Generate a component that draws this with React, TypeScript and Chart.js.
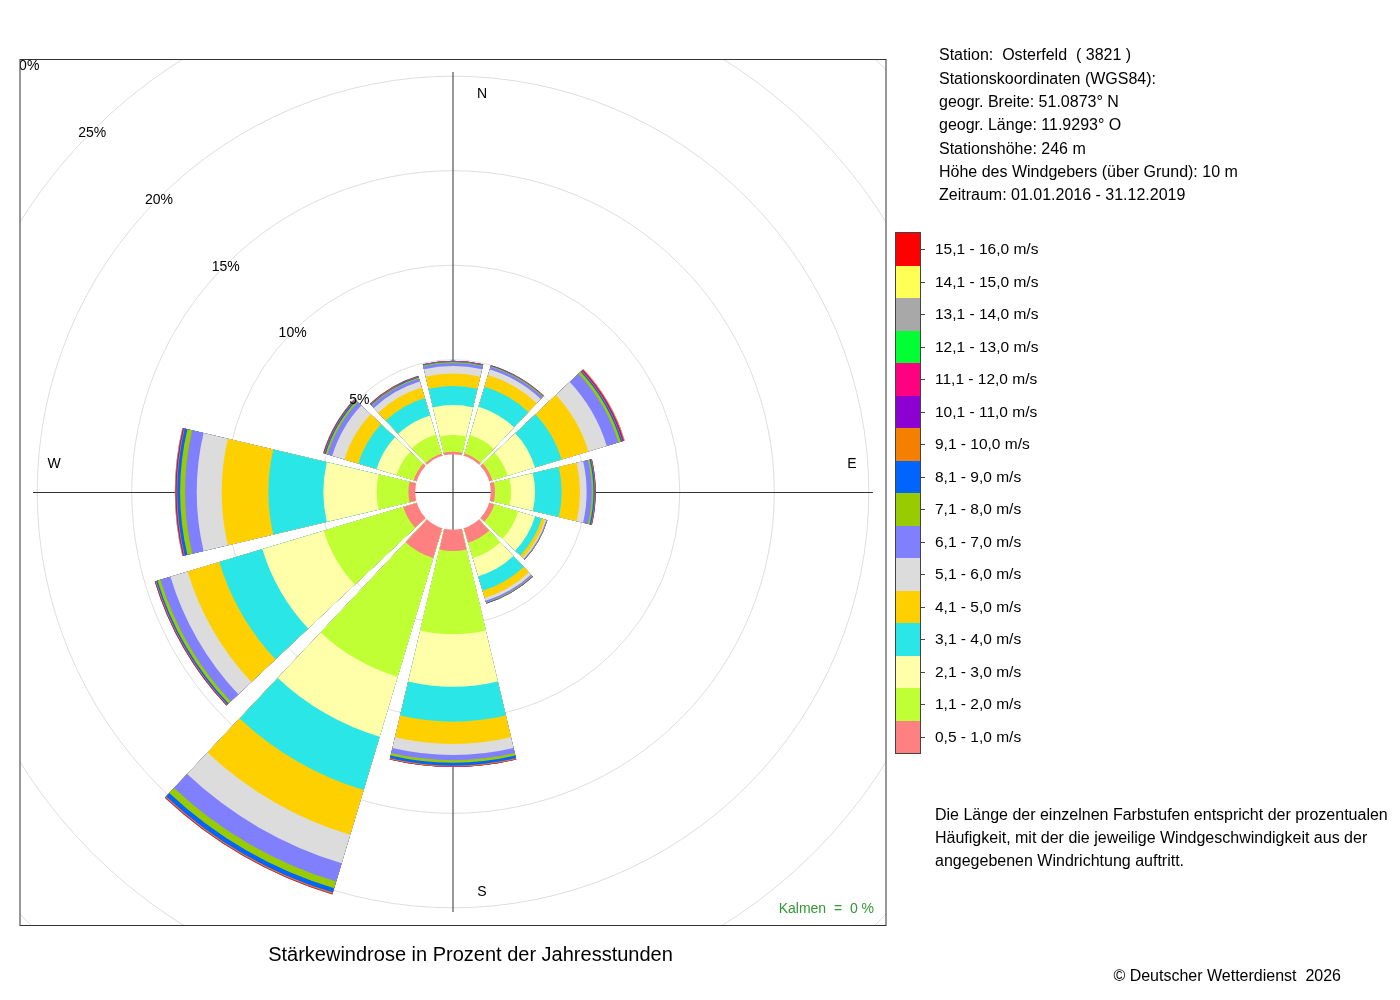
import React, { useEffect, useRef } from "react";
import { Chart, registerables } from "chart.js";

Chart.register(...registerables);

// ---------- data ----------
const directions = ["N", "NNE", "ENE", "E", "ESE", "SSE", "S", "SSW", "WSW", "W", "WNW", "NNW"];

const speedClassLabels = [
  "0,5 - 1,0 m/s", "1,1 - 2,0 m/s", "2,1 - 3,0 m/s", "3,1 - 4,0 m/s",
  "4,1 - 5,0 m/s", "5,1 - 6,0 m/s", "6,1 - 7,0 m/s", "7,1 - 8,0 m/s",
  "8,1 - 9,0 m/s", "9,1 - 10,0 m/s", "10,1 - 11,0 m/s", "11,1 - 12,0 m/s",
  "12,1 - 13,0 m/s", "13,1 - 14,0 m/s", "14,1 - 15,0 m/s", "15,1 - 16,0 m/s",
];

const speedClassColors = [
  "#FF8080", "#BFFF33", "#FFFFAA", "#2BE6E6",
  "#FFD000", "#DCDCDC", "#8080FF", "#99CC00",
  "#0064FF", "#F58000", "#8C00D2", "#FF0080",
  "#00FF33", "#A8A8A8", "#FFFF55", "#FF0000",
];

// percent of annual hours, per direction (N ... NNW)
const v05_10 = [0.13, 0.12, 0.17, 0.22, 0.28, 0.80, 1.12, 1.65, 0.75, 0.36, 0.17, 0.11];
const v11_20 = [0.89, 1.03, 0.85, 0.85, 1.32, 0.85, 4.41, 6.56, 4.39, 1.68, 0.94, 1.06];
const v21_30 = [1.58, 1.56, 1.51, 1.27, 0.93, 1.01, 2.77, 3.31, 3.39, 2.82, 1.11, 1.06];
const v31_40 = [1.01, 1.11, 1.47, 1.41, 0.37, 0.79, 1.85, 2.94, 2.38, 2.91, 1.01, 0.96];
const v41_50 = [0.66, 0.64, 1.48, 0.97, 0.18, 0.40, 1.18, 2.48, 1.75, 2.47, 0.77, 0.58];
const v51_60 = [0.40, 0.31, 1.01, 0.35, 0.07, 0.16, 0.59, 1.57, 0.95, 1.32, 0.67, 0.34];
const v61_70 = [0.16, 0.13, 0.64, 0.27, 0.03, 0.08, 0.27, 1.01, 0.55, 0.62, 0.26, 0.16];
const v71_80 = [0.05, 0.05, 0.14, 0.09, 0.01, 0.03, 0.13, 0.37, 0.16, 0.26, 0.10, 0.05];
const v81_90 = [0.04, 0.02, 0.07, 0.07, 0.01, 0.02, 0.16, 0.24, 0.08, 0.15, 0.06, 0.04];
const v91_100 = [0.01, 0.01, 0.03, 0.03, 0.01, 0.01, 0.05, 0.06, 0.04, 0.04, 0.03, 0.02];
const v101_110 = [0.01, 0.01, 0.03, 0.01, 0, 0.005, 0.01, 0.02, 0.02, 0.03, 0.02, 0.01];
const v111_120 = [0.01, 0.005, 0.05, 0.01, 0, 0, 0.005, 0.01, 0.01, 0.03, 0.02, 0.02];
const v121_130 = [0, 0, 0.01, 0.005, 0, 0, 0, 0.005, 0.005, 0.01, 0.01, 0.005];
const v131_140 = [0, 0, 0.01, 0, 0, 0, 0, 0.005, 0, 0.01, 0.005, 0];
const v141_150 = [0, 0, 0.01, 0, 0, 0, 0, 0, 0, 0.005, 0, 0];
const v151_160 = [0, 0, 0.01, 0, 0, 0, 0, 0, 0, 0.005, 0, 0];

const speedSeries = [
  v05_10, v11_20, v21_30, v31_40, v41_50, v51_60, v61_70, v71_80,
  v81_90, v91_100, v101_110, v111_120, v121_130, v131_140, v141_150, v151_160,
];

const ringTicks = [5, 10, 15, 20, 25, 30];
const calmPercent = 0;

const stationLines = [
  "Station:  Osterfeld  ( 3821 )",
  "Stationskoordinaten (WGS84):",
  "geogr. Breite: 51.0873° N",
  "geogr. Länge: 11.9293° O",
  "Stationshöhe: 246 m",
  "Höhe des Windgebers (über Grund): 10 m",
  "Zeitraum: 01.01.2016 - 31.12.2019",
];
const noteLines = [
  "Die Länge der einzelnen Farbstufen entspricht der prozentualen",
  "Häufigkeit, mit der die jeweilige Windgeschwindigkeit aus der",
  "angegebenen Windrichtung auftritt.",
];
const titleText = "Stärkewindrose in Prozent der Jahresstunden";
const copyrightText = "© Deutscher Wetterdienst  2026";

// ---------- style constants ----------
const FONT = '"Liberation Sans", Arial, Helvetica, sans-serif';
const SECTOR_DEG = 26.6;
const GAP_DEG = 30 - SECTOR_DEG;
const SCALE_MIN = -2;
const SCALE_MAX = 20.91;
const AXIS_LEN_PX = 420;
const COMPASS_R_PX = 399;
const COMPASS_SHIFT_PX = 29;
const RING_LABEL_DY = 2;

const roseDecor = {
  id: "roseDecor",
  beforeDatasetsDraw(chart: any) {
    const { ctx, chartArea } = chart;
    const r = chart.scales.r;
    const cx = r.xCenter;
    const cy = r.yCenter;
    ctx.save();
    ctx.beginPath();
    ctx.rect(chartArea.left, chartArea.top, chartArea.right - chartArea.left, chartArea.bottom - chartArea.top);
    ctx.clip();
    ctx.strokeStyle = "#dedede";
    ctx.lineWidth = 1;
    ringTicks.forEach((v) => {
      ctx.beginPath();
      ctx.arc(cx, cy, r.getDistanceFromCenterForValue(v), 0, Math.PI * 2);
      ctx.stroke();
    });
    ctx.strokeStyle = "#333";
    ctx.beginPath();
    ctx.moveTo(cx, cy - AXIS_LEN_PX);
    ctx.lineTo(cx, cy + AXIS_LEN_PX);
    ctx.stroke();
    ctx.beginPath();
    ctx.moveTo(cx - AXIS_LEN_PX, cy + 0.5);
    ctx.lineTo(cx + AXIS_LEN_PX, cy + 0.5);
    ctx.stroke();
    ctx.restore();
  },
  afterDatasetsDraw(chart: any) {
    const { ctx, chartArea } = chart;
    const r = chart.scales.r;
    const cx = r.xCenter;
    const cy = r.yCenter;
    const hole = r.getDistanceFromCenterForValue(0);
    ctx.save();
    ctx.fillStyle = "#fff";
    ctx.beginPath();
    ctx.arc(cx, cy, hole, 0, Math.PI * 2);
    ctx.fill();
    ctx.strokeStyle = "#333";
    ctx.lineWidth = 1;
    ctx.beginPath();
    ctx.moveTo(cx, cy - hole);
    ctx.lineTo(cx, cy + hole);
    ctx.stroke();
    ctx.beginPath();
    ctx.moveTo(cx - hole, cy + 0.5);
    ctx.lineTo(cx + hole, cy + 0.5);
    ctx.stroke();

    ctx.beginPath();
    ctx.rect(chartArea.left, chartArea.top, chartArea.right - chartArea.left, chartArea.bottom - chartArea.top);
    ctx.clip();
    ctx.fillStyle = "#000";
    ctx.font = `14px ${FONT}`;
    ctx.textAlign = "center";
    ctx.textBaseline = "middle";
    ringTicks.forEach((v) => {
      const d = r.getDistanceFromCenterForValue(v) * Math.SQRT1_2;
      ctx.fillText(`${v}%`, cx - d, cy - d + RING_LABEL_DY);
    });
    ctx.fillText("N", cx + COMPASS_SHIFT_PX, cy - COMPASS_R_PX + 1);
    ctx.fillText("S", cx + COMPASS_SHIFT_PX, cy + COMPASS_R_PX + 1);
    ctx.fillText("W", cx - COMPASS_R_PX, cy - COMPASS_SHIFT_PX + 1);
    ctx.fillText("E", cx + COMPASS_R_PX, cy - COMPASS_SHIFT_PX + 1);
    ctx.restore();
  },
  afterDraw(chart: any) {
    const { ctx, chartArea } = chart;
    ctx.save();
    ctx.strokeStyle = "#333";
    ctx.lineWidth = 1;
    ctx.strokeRect(chartArea.left, chartArea.top + 0.5, chartArea.right - chartArea.left, chartArea.bottom - chartArea.top);
    ctx.restore();
  },
};

export default function App() {
  const canvasRef = useRef<HTMLCanvasElement>(null);

  useEffect(() => {
    const cumulative: number[][] = [];
    speedSeries.forEach((series, k) => {
      cumulative.push(series.map((v, d) => (k === 0 ? v : cumulative[k - 1][d] + v)));
    });
    const labels = directions.flatMap((d) => [d, ""]);
    const datasets = speedSeries.map((_, k) => ({
      label: speedClassLabels[k],
      data: directions.flatMap((_, d) => [cumulative[k][d], 0]),
      backgroundColor: (c: any) => (c.dataIndex % 2 === 0 ? speedClassColors[k] : "rgba(0,0,0,0)"),
      borderWidth: 0,
      angle: (c: any) => (c.dataIndex % 2 === 0 ? SECTOR_DEG : GAP_DEG),
    }));

    const chart = new Chart(canvasRef.current as HTMLCanvasElement, {
      type: "polarArea",
      data: { labels, datasets: datasets as any },
      options: {
        responsive: false,
        animation: false,
        events: [],
        startAngle: -SECTOR_DEG / 2,
        layout: { padding: { left: 20, top: 59, right: 514, bottom: 75 } },
        plugins: { legend: { display: false }, tooltip: { enabled: false } },
        scales: {
          r: {
            type: "radialLinear",
            min: SCALE_MIN,
            max: SCALE_MAX,
            beginAtZero: false,
            startAngle: -SECTOR_DEG / 2,
            grid: { display: false },
            angleLines: { display: false },
            pointLabels: { display: false },
            ticks: { display: false },
          },
        },
      } as any,
      plugins: [roseDecor],
    });
    return () => chart.destroy();
  }, []);

  const legendTop = 232;
  const legendHeight = 522;
  const boxH = (legendHeight - 2) / speedClassLabels.length;
  const order = speedClassLabels.map((_, i) => speedClassLabels.length - 1 - i);

  return (
    <div style={{ position: "absolute", left: 0, top: 0, width: 1400, height: 1000, fontFamily: FONT, color: "#000", background: "#fff" }}>
      <canvas ref={canvasRef} width={1400} height={1000} style={{ position: "absolute", left: 0, top: 0, width: 1400, height: 1000 }} />

      <div style={{ position: "absolute", left: 939, top: 43.3, fontSize: 16, lineHeight: "23.33px", whiteSpace: "pre" }}>
        {stationLines.map((t, i) => (<div key={i}>{t}</div>))}
      </div>

      <div style={{ position: "absolute", left: 895, top: legendTop, width: 26, height: legendHeight, border: "1px solid #444", boxSizing: "border-box" }}>
        {order.map((k) => (
          <div key={k} style={{ height: boxH, background: speedClassColors[k] }} />
        ))}
      </div>
      {order.map((k, i) => {
        const cy = legendTop + 1 + boxH * (i + 0.5);
        return (
          <React.Fragment key={k}>
            <div style={{ position: "absolute", left: 921, top: Math.round(cy), width: 4, height: 1, background: "#444" }} />
            <div style={{ position: "absolute", left: 935, top: cy - 10, height: 20, lineHeight: "20px", fontSize: 15.5, whiteSpace: "pre" }}>
              {speedClassLabels[k]}
            </div>
          </React.Fragment>
        );
      })}

      <div style={{ position: "absolute", left: 935, top: 802.5, fontSize: 16, lineHeight: "23px", whiteSpace: "pre" }}>
        {noteLines.map((t, i) => (<div key={i}>{t}</div>))}
      </div>

      <div style={{ position: "absolute", left: 674, width: 200, top: 898, height: 20, lineHeight: "20px", fontSize: 14, textAlign: "right", color: "#339933", whiteSpace: "pre" }}>
        {`Kalmen  =  ${calmPercent} %`}
      </div>

      <div style={{ position: "absolute", left: 170.5, width: 600, top: 942, height: 24, lineHeight: "24px", fontSize: 20, textAlign: "center", whiteSpace: "pre" }}>
        {titleText}
      </div>

      <div style={{ position: "absolute", left: 941, width: 400, top: 965, height: 22, lineHeight: "22px", fontSize: 16, textAlign: "right", whiteSpace: "pre" }}>
        {copyrightText}
      </div>
    </div>
  );
}
